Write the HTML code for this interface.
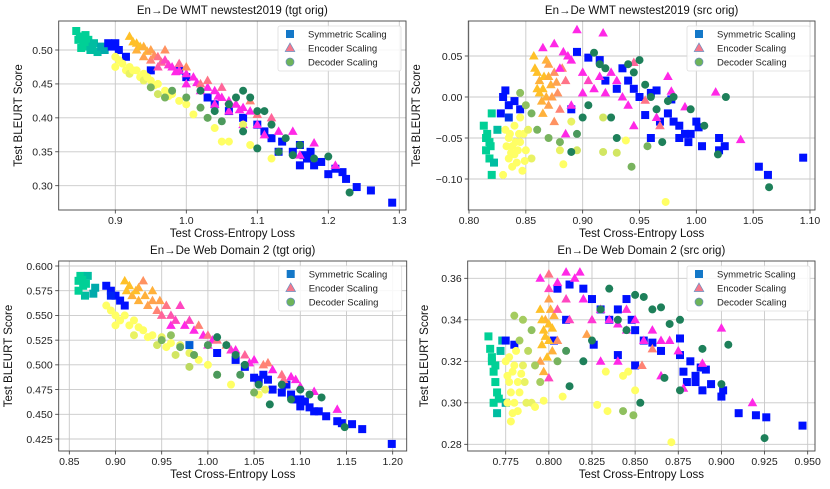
<!DOCTYPE html>
<html><head><meta charset="utf-8"><style>
html,body{margin:0;padding:0;background:#fff;}
svg{display:block;font-family:"Liberation Sans","DejaVu Sans",sans-serif;}
</style></head><body>
<svg id="fig" width="830" height="489" viewBox="0 0 830 489"></svg>
<script>
// ---- data: [loss, bleurt, modelDepth(0..1)] ----
const p1Sym=[[0.845,0.528,0],[0.85,0.52,0],[0.855,0.512,0],[0.86,0.505,0],[0.852,0.503,0],[0.858,0.522,0],[0.862,0.515,0],[0.865,0.5,0.1],[0.87,0.51,0.1],[0.868,0.505,0.1],[0.875,0.497,0.1],[0.88,0.505,0.2],[0.885,0.5,0.2],[0.848,0.515,0],[0.89,0.51,1],[0.895,0.505,1],[0.9,0.51,1],[0.905,0.5,1],[0.915,0.49,1],[0.95,0.47,1],[0.99,0.47,1],[1.0,0.46,1],[1.03,0.43,1],[1.04,0.42,1],[1.06,0.41,1],[1.08,0.4,1],[1.1,0.39,1],[1.11,0.38,1],[1.12,0.37,1],[1.13,0.35,1],[1.135,0.365,1],[1.15,0.35,1],[1.16,0.36,1],[1.165,0.345,1],[1.17,0.34,1],[1.175,0.35,1],[1.18,0.33,1],[1.19,0.335,1],[1.16,0.33,1],[1.2,0.317,1],[1.21,0.325,1],[1.22,0.32,1],[1.225,0.31,1],[1.24,0.298,1],[1.26,0.293,1],[1.29,0.275,1]];
const p1Enc=[[0.92,0.52,0],[0.925,0.512,0],[0.93,0.51,0],[0.93,0.5,0.1],[0.935,0.505,0],[0.94,0.505,0.1],[0.94,0.49,0.2],[0.945,0.498,0.1],[0.95,0.5,0.2],[0.95,0.485,0.4],[0.955,0.492,0.3],[0.96,0.49,0.5],[0.96,0.475,0.7],[0.965,0.482,0.6],[0.97,0.485,0.8],[0.97,0.5,0.3],[0.975,0.478,0.9],[0.98,0.475,1],[0.985,0.468,1],[0.99,0.47,1],[0.99,0.48,0.6],[1.0,0.465,1],[1.0,0.475,0.3],[1.0,0.45,1],[1.01,0.46,1],[1.015,0.452,1],[1.02,0.45,0.5],[1.02,0.44,1],[1.03,0.445,1],[1.03,0.455,0.5],[1.04,0.44,1],[1.04,0.42,1],[1.045,0.432,1],[1.05,0.43,1],[1.05,0.445,0.6],[1.06,0.425,1],[1.06,0.41,1],[1.07,0.42,1],[1.075,0.412,1],[1.08,0.415,1],[1.08,0.39,1],[1.09,0.41,1],[1.09,0.425,0.4],[1.1,0.405,0.5],[1.1,0.39,1],[1.11,0.375,1],[1.12,0.4,0.6],[1.13,0.38,1],[1.15,0.38,1],[1.16,0.345,1],[1.18,0.363,1],[1.21,0.33,1]];
const p1Dec=[[0.9,0.49,0],[0.9,0.475,0],[0.905,0.485,0],[0.91,0.48,0],[0.915,0.47,0],[0.92,0.475,0],[0.92,0.465,0.1],[0.925,0.47,0],[0.93,0.47,0],[0.935,0.46,0],[0.94,0.465,0],[0.94,0.455,0.1],[0.945,0.46,0],[0.95,0.455,0],[0.955,0.448,0],[0.96,0.45,0],[0.96,0.435,0.2],[0.97,0.44,0],[0.975,0.432,0],[0.98,0.435,0],[0.99,0.425,0],[1.0,0.42,0],[1.01,0.405,0],[1.04,0.385,0],[1.05,0.365,0],[1.06,0.365,0],[1.08,0.39,0.1],[1.09,0.36,0],[1.12,0.34,0],[0.95,0.445,0.6],[0.97,0.43,0.6],[0.98,0.44,0.7],[1.0,0.43,0.7],[1.02,0.415,0.7],[1.02,0.44,1],[1.03,0.4,0.7],[1.04,0.41,1],[1.05,0.395,0.8],[1.06,0.42,1],[1.07,0.43,1],[1.08,0.44,1],[1.08,0.38,1],[1.09,0.43,1],[1.1,0.41,1],[1.1,0.355,1],[1.11,0.41,1],[1.12,0.39,1],[1.13,0.35,1],[1.14,0.37,1],[1.15,0.345,1],[1.16,0.36,1],[1.18,0.34,1],[1.2,0.343,1],[1.23,0.29,1]];

const p2Sym=[[0.813,-0.035,0],[0.815,-0.05,0],[0.815,-0.065,0],[0.818,-0.075,0],[0.82,-0.095,0],[0.82,-0.02,0],[0.825,-0.04,0.1],[0.822,-0.08,0.1],[0.818,-0.055,0],[0.816,-0.045,0],[0.819,-0.06,0],[0.83,0.0,1],[0.832,0.008,1],[0.835,-0.01,1],[0.84,-0.005,1],[0.845,-0.015,1],[0.828,-0.02,1],[0.835,-0.025,0.8],[0.895,0.055,1],[0.905,0.048,1],[0.915,0.045,1],[0.89,-0.015,1],[0.92,0.02,1],[0.93,0.01,1],[0.935,0.035,1],[0.94,0.02,1],[0.945,0.01,1],[0.95,0.0,1],[0.96,0.005,1],[0.965,0.008,1],[0.955,-0.022,1],[0.96,-0.05,1],[0.968,-0.03,1],[0.975,-0.02,1],[0.978,-0.003,1],[0.98,-0.03,1],[0.985,-0.035,1],[0.99,-0.045,1],[0.985,-0.05,1],[0.993,-0.055,1],[0.995,-0.045,1],[1.0,-0.03,1],[1.002,-0.037,1],[1.005,-0.06,1],[1.02,-0.05,1],[1.02,-0.065,1],[1.025,-0.06,1],[1.055,-0.085,1],[1.063,-0.095,1],[1.094,-0.074,1]];
const p2Enc=[[0.857,0.05,0],[0.86,0.03,0],[0.862,0.02,0.1],[0.865,0.01,0],[0.868,0.0,0.1],[0.87,-0.01,0.2],[0.865,-0.02,0.1],[0.87,0.04,0.2],[0.875,0.03,0.3],[0.872,0.015,0.1],[0.878,0.005,0.3],[0.88,-0.015,0.4],[0.86,0.01,0],[0.875,-0.03,0.3],[0.885,0.02,0.5],[0.858,0.035,0],[0.862,0.005,0],[0.866,0.025,0],[0.868,0.045,0.1],[0.873,0.0,0.2],[0.877,0.018,0.2],[0.882,0.035,0.4],[0.864,-0.005,0.1],[0.87,0.025,0.1],[0.865,0.06,1],[0.875,0.065,1],[0.883,0.055,1],[0.88,0.035,1],[0.887,0.05,1],[0.89,0.045,1],[0.895,0.082,1],[0.9,0.03,1],[0.905,0.02,0.8],[0.91,0.01,1],[0.915,0.025,1],[0.918,0.078,1],[0.92,0.005,1],[0.925,0.03,1],[0.93,0.02,1],[0.935,0.0,1],[0.94,-0.01,1],[0.945,0.042,0.6],[0.955,-0.004,0.5],[0.965,-0.025,1],[0.968,-0.035,0.5],[0.975,0.025,1],[0.978,0.007,1],[0.99,-0.012,1],[1.017,0.006,1],[1.039,-0.052,1],[0.945,-0.035,1],[0.885,-0.045,1],[0.89,-0.01,1],[0.9,0.005,1]];
const p2Dec=[[0.832,-0.04,0],[0.835,-0.05,0],[0.838,-0.06,0],[0.84,-0.07,0],[0.842,-0.08,0],[0.845,-0.055,0],[0.848,-0.045,0],[0.85,-0.065,0],[0.835,-0.075,0],[0.84,-0.035,0],[0.845,-0.025,0],[0.83,-0.095,0],[0.838,-0.085,0],[0.852,-0.04,0.1],[0.855,-0.075,0.1],[0.843,-0.065,0],[0.833,-0.06,0],[0.847,-0.09,0],[0.836,-0.045,0],[0.841,-0.055,0],[0.844,-0.045,0],[0.837,-0.068,0],[0.849,-0.078,0],[0.88,-0.065,0.1],[0.883,-0.082,0],[0.895,-0.065,0.2],[0.918,-0.067,0.2],[0.918,-0.025,0.2],[0.93,-0.068,0.2],[0.938,-0.053,0],[0.973,-0.128,0],[0.89,-0.03,0.1],[0.845,0.005,0.5],[0.85,-0.01,0.5],[0.855,-0.02,0.6],[0.86,-0.04,0.6],[0.87,-0.05,0.6],[0.88,-0.055,0.6],[0.89,-0.067,1],[0.895,-0.045,0.8],[0.91,0.054,1],[0.915,0.04,1],[0.92,0.035,1],[0.925,-0.025,1],[0.93,-0.05,1],[0.94,0.04,1],[0.945,0.03,1],[0.95,0.045,1],[0.955,0.015,1],[0.96,0.0,1],[0.965,-0.015,1],[0.97,-0.055,1],[0.975,-0.005,1],[0.98,0.0,1],[0.995,-0.015,1],[1.007,-0.035,1],[1.019,-0.07,1],[1.026,0.0,1],[1.064,-0.11,1],[0.9,-0.025,1],[0.905,-0.01,1],[0.943,-0.085,0.6],[0.957,-0.06,0.6]];

const p3Sym=[[0.86,0.585,0],[0.862,0.59,0],[0.865,0.58,0],[0.867,0.57,0.1],[0.87,0.59,0.1],[0.878,0.578,0.2],[0.876,0.572,0.2],[0.86,0.575,0],[0.864,0.586,0],[0.868,0.582,0],[0.89,0.58,1],[0.895,0.575,1],[0.9,0.57,1],[0.905,0.565,1],[0.91,0.56,1],[0.895,0.57,0.9],[0.98,0.52,0.6],[1.01,0.512,1],[1.03,0.505,1],[1.04,0.498,1],[1.05,0.487,1],[1.055,0.485,1],[1.06,0.49,1],[1.065,0.485,1],[1.07,0.475,1],[1.08,0.472,1],[1.085,0.48,1],[1.09,0.47,1],[1.095,0.465,1],[1.1,0.458,1],[1.1,0.465,1],[1.105,0.463,1],[1.11,0.457,1],[1.115,0.453,1],[1.12,0.453,1],[1.128,0.448,1],[1.14,0.443,1],[1.145,0.441,1],[1.156,0.44,1],[1.167,0.435,1],[1.199,0.42,1]];
const p3Enc=[[0.91,0.585,0],[0.912,0.575,0],[0.915,0.58,0],[0.918,0.57,0.1],[0.922,0.575,0],[0.925,0.565,0.1],[0.925,0.578,0.1],[0.93,0.585,0.3],[0.932,0.57,0.1],[0.935,0.56,0.2],[0.94,0.575,0.1],[0.94,0.565,0.2],[0.945,0.555,0.4],[0.948,0.565,0.2],[0.95,0.55,0.6],[0.955,0.56,0.5],[0.96,0.55,0.7],[0.96,0.54,1],[0.965,0.545,0.8],[0.97,0.56,0.8],[0.975,0.54,1],[0.98,0.545,0.8],[0.985,0.535,1],[0.99,0.54,0.4],[0.995,0.53,1],[1.0,0.53,0.5],[1.0,0.52,1],[1.005,0.525,1],[1.01,0.525,0.5],[1.02,0.52,0.4],[1.025,0.515,0.9],[1.03,0.515,1],[1.04,0.51,0.6],[1.045,0.502,1],[1.05,0.505,1],[1.06,0.5,0.4],[1.065,0.502,0.4],[1.07,0.495,1],[1.08,0.49,0.5],[1.082,0.485,0.5],[1.09,0.488,1],[1.095,0.485,1],[1.1,0.478,1],[1.115,0.473,1],[1.14,0.455,1]];
const p3Dec=[[0.89,0.56,0],[0.895,0.555,0],[0.9,0.55,0],[0.9,0.54,0],[0.905,0.545,0],[0.91,0.55,0],[0.915,0.54,0],[0.92,0.545,0],[0.92,0.53,0.1],[0.925,0.538,0],[0.93,0.535,0],[0.935,0.528,0],[0.94,0.53,0],[0.945,0.52,0.2],[0.95,0.528,0.1],[0.955,0.518,0],[0.96,0.522,0],[0.965,0.51,0.2],[0.97,0.52,0.1],[0.98,0.512,0.1],[0.98,0.498,0.3],[0.99,0.505,0],[1.0,0.5,0],[1.01,0.49,0.1],[1.025,0.48,0],[1.055,0.47,0],[1.062,0.475,0.1],[0.95,0.525,0.6],[0.96,0.53,0.5],[0.97,0.518,0.7],[0.985,0.51,0.7],[1.0,0.52,0.8],[1.01,0.528,1],[1.01,0.49,0.8],[1.02,0.52,1],[1.03,0.51,1],[1.035,0.49,0.8],[1.04,0.5,1],[1.05,0.472,0.6],[1.055,0.48,1],[1.067,0.46,1],[1.08,0.48,1],[1.09,0.465,1],[1.1,0.475,1],[1.11,0.47,1],[1.123,0.467,1],[1.148,0.437,1]];

const p4Sym=[[0.765,0.332,0],[0.767,0.32,0],[0.768,0.315,0],[0.769,0.31,0],[0.77,0.305,0],[0.768,0.3,0],[0.77,0.295,0.1],[0.772,0.325,0.1],[0.773,0.33,0.1],[0.775,0.3,0.2],[0.767,0.322,0],[0.766,0.326,0],[0.769,0.318,0],[0.771,0.302,0],[0.775,0.33,1],[0.78,0.328,1],[0.803,0.33,1],[0.805,0.355,1],[0.81,0.34,1],[0.812,0.357,1],[0.82,0.355,1],[0.825,0.35,1],[0.826,0.328,1],[0.83,0.345,1],[0.835,0.34,1],[0.84,0.345,1],[0.84,0.323,1],[0.845,0.35,1],[0.848,0.34,1],[0.85,0.335,1],[0.85,0.318,1],[0.855,0.33,1],[0.86,0.329,1],[0.865,0.325,1],[0.876,0.331,1],[0.876,0.323,1],[0.878,0.315,1],[0.88,0.31,1],[0.882,0.32,1],[0.885,0.313,1],[0.888,0.317,1],[0.885,0.31,1],[0.889,0.306,1],[0.891,0.316,1],[0.894,0.309,1],[0.9,0.303,1],[0.901,0.306,1],[0.91,0.295,1],[0.92,0.294,1],[0.926,0.293,1],[0.947,0.289,1]];
const p4Enc=[[0.795,0.345,0],[0.797,0.335,0],[0.798,0.34,0.1],[0.8,0.33,0],[0.8,0.35,0.2],[0.802,0.325,0.1],[0.795,0.32,0.2],[0.803,0.342,0.1],[0.797,0.315,0.1],[0.805,0.33,0.3],[0.8,0.338,0],[0.796,0.328,0],[0.799,0.322,0],[0.801,0.345,0.1],[0.798,0.332,0],[0.802,0.336,0],[0.796,0.34,0],[0.795,0.36,1],[0.8,0.362,0.5],[0.805,0.358,1],[0.81,0.363,1],[0.815,0.36,1],[0.818,0.363,1],[0.82,0.35,1],[0.8,0.355,0.8],[0.81,0.35,0.8],[0.805,0.345,0.7],[0.812,0.34,0.8],[0.83,0.345,1],[0.835,0.34,1],[0.84,0.338,1],[0.845,0.335,1],[0.85,0.34,1],[0.855,0.33,1],[0.86,0.335,1],[0.865,0.33,1],[0.87,0.33,1],[0.875,0.325,1],[0.878,0.307,1],[0.889,0.319,1],[0.9,0.336,1],[0.918,0.3,1],[0.83,0.32,1],[0.84,0.32,1],[0.854,0.318,0.4],[0.86,0.326,0.4],[0.865,0.313,1],[0.822,0.333,0.2],[0.8,0.312,0.8],[0.825,0.34,0.9],[0.845,0.345,0.9]];
const p4Dec=[[0.775,0.32,0],[0.777,0.31,0],[0.778,0.305,0],[0.779,0.315,0],[0.78,0.3,0],[0.781,0.325,0],[0.782,0.31,0],[0.783,0.305,0],[0.776,0.3,0],[0.778,0.291,0],[0.777,0.322,0],[0.78,0.318,0],[0.782,0.296,0],[0.776,0.313,0],[0.784,0.314,0],[0.785,0.318,0.1],[0.787,0.3,0.1],[0.79,0.3,0.1],[0.792,0.298,0],[0.797,0.301,0],[0.808,0.303,0],[0.828,0.299,0],[0.834,0.296,0],[0.833,0.315,0],[0.843,0.313,0],[0.846,0.315,0],[0.85,0.306,0],[0.871,0.281,0],[0.779,0.295,0],[0.786,0.31,0.1],[0.78,0.342,0.4],[0.785,0.34,0.4],[0.79,0.335,0.5],[0.788,0.325,0.3],[0.792,0.318,0.4],[0.795,0.31,0.4],[0.783,0.33,0.4],[0.805,0.32,0.6],[0.81,0.325,0.8],[0.812,0.308,1],[0.82,0.32,1],[0.825,0.33,1],[0.83,0.345,1],[0.835,0.355,1],[0.84,0.34,1],[0.843,0.296,0.5],[0.845,0.335,1],[0.849,0.294,0.5],[0.85,0.352,1],[0.853,0.3,1],[0.855,0.351,1],[0.86,0.345,1],[0.865,0.346,1],[0.867,0.312,1],[0.87,0.338,1],[0.876,0.34,1],[0.876,0.306,1],[0.889,0.326,1],[0.9,0.309,1],[0.904,0.328,1],[0.925,0.283,1]];

const p1XTicks=[0.9,1.0,1.1,1.2,1.3], p1YTicks=[0.30,0.35,0.40,0.45,0.50];
const p2XTicks=[0.80,0.85,0.90,0.95,1.00,1.05,1.10], p2YTicks=[-0.10,-0.05,0.00,0.05];
const p3XTicks=[0.85,0.90,0.95,1.00,1.05,1.10,1.15,1.20], p3YTicks=[0.425,0.450,0.475,0.500,0.525,0.550,0.575,0.600];
const p4XTicks=[0.775,0.800,0.825,0.850,0.875,0.900,0.925,0.950], p4YTicks=[0.28,0.30,0.32,0.34,0.36];
const titles=["En\u2192De WMT newstest2019 (tgt orig)","En\u2192De WMT newstest2019 (src orig)","En\u2192De Web Domain 2 (tgt orig)","En\u2192De Web Domain 2 (src orig)"];
const legendLabels=["Symmetric Scaling","Encoder Scaling","Decoder Scaling"];

// ---- layout ----
const panels=[
 {name:'wmt-tgt',L:58.7,R:406,T:21,B:210,xd:[0.9,1.3],xr:[115.3,399.3],yd:[0.5,0.3],yr:[50,185.7],xt:p1XTicks,yt:p1YTicks,xdec:1,ydec:2,data:[p1Sym,p1Enc,p1Dec],ylx:22},
 {name:'wmt-src',L:468.3,R:815,T:21,B:210,xd:[0.8,1.1],xr:[469,810],yd:[0.05,-0.10],yr:[56,179],xt:p2XTicks,yt:p2YTicks,xdec:2,ydec:2,data:[p2Sym,p2Enc,p2Dec],ylx:420},
 {name:'web-tgt',L:58.7,R:406.7,T:261,B:451,xd:[0.85,1.2],xr:[69.3,392.7],yd:[0.6,0.425],yr:[266,439],xt:p3XTicks,yt:p3YTicks,xdec:2,ydec:3,data:[p3Sym,p3Enc,p3Dec],ylx:12},
 {name:'web-src',L:467.7,R:815,T:261,B:451,xd:[0.775,0.95],xr:[505.7,807.7],yd:[0.36,0.28],yr:[278.3,444.3],xt:p4XTicks,yt:p4YTicks,xdec:3,ydec:2,data:[p4Sym,p4Enc,p4Dec],ylx:428}
];
const NS='http://www.w3.org/2000/svg';
const fig=document.getElementById('fig');
function mk(tag,attrs,parent){const e=document.createElementNS(NS,tag);for(const k in attrs)e.setAttribute(k,attrs[k]);(parent||fig).appendChild(e);return e;}
function lerp(a,b,t){return a.map((v,i)=>Math.round(v+(b[i]-v)*t));}
function col(s,c){
  const pal=[[[0,208,150],[0,16,255]],[[255,192,40],[255,40,230]],[[255,255,100],[30,128,90]]];
  const r=lerp(pal[s][0],pal[s][1],c);return 'rgb('+r.join(',')+')';
}
function fmt(v,d){const s=Math.abs(v).toFixed(d);return (v<-1e-9?'\u2212':'')+s;}
const seriesNames=['symmetric-scaling','encoder-scaling','decoder-scaling'];
function marker(g,s,px,py,fill){
  let e;
  if(s===0){e=mk('rect',{x:px-4,y:py-4,width:8,height:8,fill:fill},g);}
  else if(s===1){e=mk('polygon',{points:(px)+','+(py-5)+' '+(px+4.8)+','+(py+3.5)+' '+(px-4.8)+','+(py+3.5),fill:fill},g);}
  else{e=mk('circle',{cx:px,cy:py,r:4,fill:fill},g);}
  return e;
}
panels.forEach((p,pi)=>{
  const sx=v=>p.xr[0]+(v-p.xd[0])*(p.xr[1]-p.xr[0])/(p.xd[1]-p.xd[0]);
  const sy=v=>p.yr[0]+(v-p.yd[0])*(p.yr[1]-p.yr[0])/(p.yd[1]-p.yd[0]);
  const g=mk('g',{});
  
  
  const cid='clip'+pi;
  const cp=mk('clipPath',{id:cid},g);mk('rect',{x:p.L,y:p.T,width:p.R-p.L,height:p.B-p.T},cp);
  p.xt.forEach(t=>{const x=sx(t);
    const gl=mk('line',{x1:x,x2:x,y1:p.T,y2:p.B,stroke:'#c8c8c8','stroke-width':0.9},g);
    
    mk('line',{x1:x,x2:x,y1:p.B,y2:p.B+3.5,stroke:'#333','stroke-width':0.8},g);
    const tl=mk('text',{x:x,y:p.B+14,'text-anchor':'middle','font-size':10.5,fill:'#222'},g);tl.textContent=fmt(t,p.xdec);
    });
  p.yt.forEach(t=>{const y=sy(t);
    const gl=mk('line',{x1:p.L,x2:p.R,y1:y,y2:y,stroke:'#c8c8c8','stroke-width':0.9},g);
    
    mk('line',{x1:p.L-3.5,x2:p.L,y1:y,y2:y,stroke:'#333','stroke-width':0.8},g);
    const tl=mk('text',{x:p.L-6,y:y+3.8,'text-anchor':'end','font-size':10.5,fill:'#222'},g);tl.textContent=fmt(t,p.ydec);
    });
  const pg=mk('g',{'clip-path':'url(#'+cid+')'},g);
  p.data.forEach((arr,s)=>{
    const sg=mk('g',{},pg);
    
    
    arr.forEach(d=>{
      const m=marker(sg,s,sx(d[0]),sy(d[1]),col(s,d[2]));
      
      
    });
  });
  const fr=mk('rect',{x:p.L,y:p.T,width:p.R-p.L,height:p.B-p.T,fill:'none',stroke:'#444','stroke-width':0.9},g);
  
  const tt=mk('text',{x:(p.L+p.R)/2,y:p.T-7,'text-anchor':'middle','font-size':11.5,fill:'#111'},g);tt.textContent=titles[pi];
  
  const xl=mk('text',{x:(p.L+p.R)/2,y:p.B+27,'text-anchor':'middle','font-size':11.5,fill:'#111'},g);xl.textContent='Test Cross-Entropy Loss';
  
  const yc=(p.T+p.B)/2;
  const yl=mk('text',{x:p.ylx,y:yc,'text-anchor':'middle','font-size':11.5,fill:'#111',transform:'rotate(-90 '+p.ylx+' '+yc+')'},g);yl.textContent='Test BLEURT Score';
  
  const lg=mk('g',{},g);
  
  const lx=p.R-128, ly=p.T+5;
  mk('rect',{x:lx,y:ly,width:123,height:45,fill:'#fff','fill-opacity':0.85,stroke:'#ddd','stroke-width':0.8,rx:2},lg);
  const lc=['rgb(20,120,200)','rgb(245,120,140)','rgb(110,180,90)'];
  legendLabels.forEach((lab,i)=>{
    const yy=ly+8+i*14;
    const m=marker(lg,i,lx+12,yy,lc[i]);
    m.setAttribute('stroke',i===0?'none':'#6a8fc0');m.setAttribute('stroke-width',0.7);
    
    const t=mk('text',{x:lx+30,y:yy+3.5,'font-size':9.5,fill:'#222'},lg);t.textContent=lab;
    
  });
});
</script>
</body></html>
